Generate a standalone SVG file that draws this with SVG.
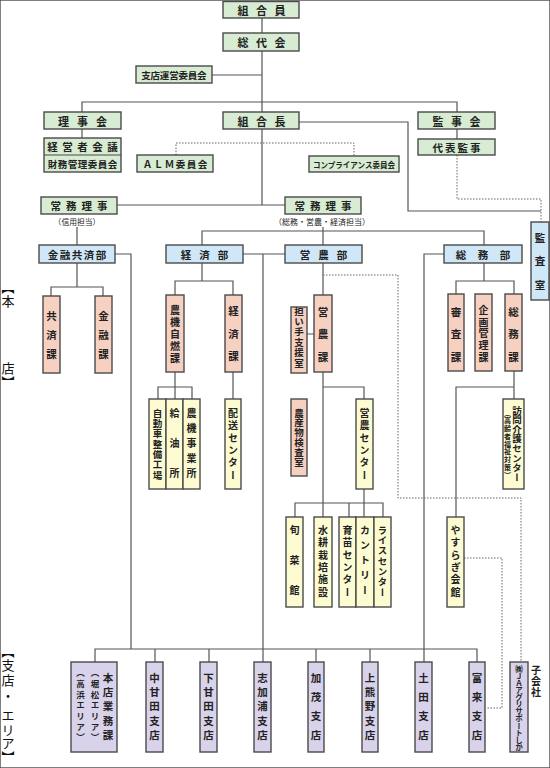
<svg xmlns="http://www.w3.org/2000/svg" width="550" height="768" viewBox="0 0 550 768">
<style>
rect{stroke:#4a4a4a;stroke-width:1.4}
.g{fill:#d7ecd3}.bl{fill:#cfe7f7}.s{fill:#f6d0c0}.y{fill:#fcfbd1}.l{fill:#d8d3ea}
.t{font-family:"Noto Sans CJK JP","Noto Sans CJK SC",sans-serif;font-weight:700;fill:#222;text-anchor:middle}
.h{dominant-baseline:central}
.v{writing-mode:vertical-rl}
.lab{font-family:"Noto Sans CJK JP",sans-serif;font-weight:400;fill:#111;text-anchor:middle;dominant-baseline:central;font-size:13px}
.ln{fill:none;stroke:#555;stroke-width:1.2}
.dt{fill:none;stroke:#666;stroke-width:1;stroke-dasharray:1.5 1.5}
</style>
<rect x="0" y="0" width="550" height="768" fill="#fff" stroke="none"/>
<g id="connectors">
<path class="ln" d="M262 18V33M262 51V112M262 129V205M212 75H262M82 112V102H457V112M82 129V138M457 129V139M299 122H408V211H541M117 205H285M77 227V245M323 227V245M202 245V231H484V245M115 254H131V649M243 254H285M263 254V662M444 254H424V662M95 662V649H477V662M155 649V662M209 649V662M316 649V662M370 649V662M77 263V287M51 296V287H103V296M202 263V281M175 295V281H233V295M175 372V399M158 399V387H192V399M233 372V399M323 263V295M307 334H314M323 372V517M323 387H364V399M364 489V517M295 517V503H383V517M349 503V517M484 263V281M456 294V281H514V294M514 371V399M514 387H456V517"/>
<path class="dt" d="M176 155V143H354V156M457 155V199H541V222M323 275H398V498H521V662M464 558H502V708H486"/>
</g>
<g id="labels">
<text class="lab" x="8 8 8 8" y="286 300 367 381">︻本店︼</text>
<text class="lab" x="8 8 8 8 8 8 8 8" y="650 664 679 695 714 729 742.5 756">︻支店・エリア︼</text>
<text class="t h" x="536 536 536" y="669 680 691" font-size="10">子会社</text>
<text class="t" x="77" y="221.5" font-size="7.8" style="dominant-baseline:central;font-weight:400">（信用担当）</text>
<text class="t" x="322" y="221.5" font-size="8" style="dominant-baseline:central;font-weight:400">（総務・営農・経済担当）</text>
</g>
<g id="n-kumiaiin"><rect class="g" x="223" y="1.5" width="76" height="16.5"/><text class="t h" x="243 261.5 280" y="10" font-size="11">組合員</text></g>
<g id="n-soudaikai"><rect class="g" x="223" y="33" width="76" height="18"/><text class="t h" x="243 261.5 280" y="42" font-size="11">総代会</text></g>
<g id="n-shiten-unei"><rect class="g" x="136" y="66" width="76" height="17"/><text class="t h" x="146 155.3 164.6 173.9 183.2 192.5 201.8" y="74.5" font-size="9.5">支店運営委員会</text></g>
<g id="n-rijikai"><rect class="g" x="44" y="112" width="77" height="17"/><text class="t h" x="63.5 82.5 101.5" y="120.5" font-size="11">理事会</text></g>
<g id="n-kumiaicho"><rect class="g" x="223" y="112" width="76" height="17"/><text class="t h" x="243 261.5 280" y="120.5" font-size="11">組合長</text></g>
<g id="n-kanjikai"><rect class="g" x="418" y="112" width="77" height="17"/><text class="t h" x="438 456.5 475" y="120.5" font-size="11">監事会</text></g>
<g id="n-keiei"><rect class="g" x="44" y="138" width="77" height="34"/><line x1="44" y1="155" x2="121" y2="155" stroke="#4a4a4a" stroke-width="1.2"/><text class="t h" x="52.5 67.5 82.5 97.5 112.5" y="146.5" font-size="10.5">経営者会議</text><text class="t h" x="52.5 62.5 72.5 82.5 92.5 102.5 112.5" y="163.5" font-size="9.5">財務管理委員会</text></g>
<g id="n-alm"><rect class="g" x="137" y="155" width="76" height="17"/><text class="t h" x="147.5 158.5 169.5 180.5 191.5 202.5" y="163.5" font-size="9.5">ＡＬＭ委員会</text></g>
<g id="n-compliance"><rect class="g" x="309" y="156" width="90" height="16"/><text class="t h" x="354" y="164" font-size="8.2" textLength="82" lengthAdjust="spacingAndGlyphs">コンプライアンス委員会</text></g>
<g id="n-daihyo"><rect class="g" x="418" y="139" width="77" height="16"/><text class="t h" x="437.7 450.2 462.7 475.2" y="147" font-size="10.5">代表監事</text></g>
<g id="n-jomu-l"><rect class="g" x="41" y="197" width="76" height="17"/><text class="t h" x="55.75 71.25 86.75 102.25" y="205.5" font-size="10.5">常務理事</text></g>
<g id="n-jomu-r"><rect class="g" x="285" y="197" width="76" height="17"/><text class="t h" x="299.75 315.25 330.75 346.25" y="205.5" font-size="10.5">常務理事</text></g>
<g id="n-kinyu-kyosai"><rect class="bl" x="39" y="245" width="76" height="18"/><text class="t h" x="53 65 77 89 101" y="254" font-size="10.5">金融共済部</text></g>
<g id="n-keizai"><rect class="bl" x="166" y="245" width="77" height="18"/><text class="t h" x="186 204.5 223" y="254" font-size="10.5">経済部</text></g>
<g id="n-einou"><rect class="bl" x="285" y="245" width="77" height="18"/><text class="t h" x="305 323.5 342" y="254" font-size="10.5">営農部</text></g>
<g id="n-somu"><rect class="bl" x="444" y="245" width="78" height="18"/><text class="t h" x="461 483 505" y="254" font-size="10.5">総務部</text></g>
<g id="n-kansa"><rect class="bl" x="531" y="222" width="18" height="78"/><text class="t v" x="540" y="238 261.5 285" font-size="10.5">監査室</text></g>
<g id="n-kyosai-ka"><rect class="s" x="43" y="296" width="17" height="77"/><text class="t v" x="51.5" y="316 335 354" font-size="10.5">共済課</text></g>
<g id="n-kinyu-ka"><rect class="s" x="95" y="296" width="17" height="77"/><text class="t v" x="103.5" y="316 335 354" font-size="10.5">金融課</text></g>
<g id="n-noki"><rect class="s" x="166" y="295" width="18" height="77"/><text class="t v" x="175" y="310 322 334 346 358" font-size="10">農機自燃課</text></g>
<g id="n-keizai-ka"><rect class="s" x="225" y="295" width="17" height="77"/><text class="t v" x="233.5" y="311.5 334 356.5" font-size="10.5">経済課</text></g>
<g id="n-ninaite"><rect class="s" x="291" y="307" width="16" height="66"/><text class="t v" x="299" y="311 321.4 331.8 342.2 352.6 363" font-size="9.5">担い手支援室</text></g>
<g id="n-einou-ka"><rect class="s" x="314" y="295" width="18" height="77"/><text class="t v" x="323" y="312 334.5 357" font-size="10.5">営農課</text></g>
<g id="n-shinsa"><rect class="s" x="448" y="294" width="16" height="77"/><text class="t v" x="456" y="312 334.5 357" font-size="10.5">審査課</text></g>
<g id="n-kikaku"><rect class="s" x="475" y="294" width="17" height="77"/><text class="t v" x="483.5" y="310 321.75 333.5 345.25 357" font-size="10">企画管理課</text></g>
<g id="n-somu-ka"><rect class="s" x="505" y="294" width="17" height="77"/><text class="t v" x="513.5" y="312 334.5 357" font-size="10.5">総務課</text></g>
<g id="n-kensa"><rect class="s" x="291" y="399" width="16" height="77"/><text class="t v" x="299" y="413 422.8 432.6 442.4 452.2 462" font-size="9.5">農産物検査室</text></g>
<g id="n-jidosha"><rect class="y" x="149" y="399" width="17" height="90"/><text class="t v" x="157.5" y="413 423.3 433.7 444 454.3 464.7 475" font-size="9.5">自動車整備工場</text></g>
<g id="n-kyuyu"><rect class="y" x="166" y="399" width="17" height="90"/><text class="t v" x="174.5" y="413 443 473" font-size="10">給油所</text></g>
<g id="n-noki-jigyo"><rect class="y" x="183" y="399" width="17" height="90"/><text class="t v" x="191.5" y="413 428 443 458 473" font-size="10">農機事業所</text></g>
<g id="n-haiso"><rect class="y" x="225" y="399" width="16" height="90"/><text class="t v" x="233" y="413 425.4 437.8 450.2 462.6 475" font-size="10">配送センター</text></g>
<g id="n-einou-center"><rect class="y" x="356" y="399" width="17" height="90"/><text class="t v" x="364.5" y="413 425.4 437.8 450.2 462.6 475" font-size="10">営農センター</text></g>
<g id="n-homon"><rect class="y" x="503" y="399" width="21" height="90"/><text class="t v" x="517" y="410 419.6 429.1 438.7 448.3 457.9 467.4 477" font-size="9.5">訪問介護センター</text><text class="t v" x="507.5" y="413 420.75 428.5 436.25 444 451.75 459.5 467.25 475" font-size="7">（高齢者福祉対策）</text></g>
<g id="n-shunsai"><rect class="y" x="286" y="517" width="17" height="90"/><text class="t v" x="294.5" y="530 560 590" font-size="10">旬菜館</text></g>
<g id="n-suiko"><rect class="y" x="314" y="517" width="18" height="90"/><text class="t v" x="323" y="530 542.4 554.8 567.2 579.6 592" font-size="10">水耕栽培施設</text></g>
<g id="n-ikubyo"><rect class="y" x="339" y="517" width="17" height="90"/><text class="t v" x="347.5" y="530 542.4 554.8 567.2 579.6 592" font-size="10">育苗センター</text></g>
<g id="n-country"><rect class="y" x="356" y="517" width="18" height="90"/><text class="t v" x="365" y="530 545 560 575 590" font-size="10">カントリー</text></g>
<g id="n-rice"><rect class="y" x="374" y="517" width="17" height="90"/><text class="t v" x="382.5" y="530 540.3 550.7 561 571.3 581.7 592" font-size="9.5">ライスセンター</text></g>
<g id="n-yasuragi"><rect class="y" x="447" y="517" width="17" height="90"/><text class="t v" x="455.5" y="530 542.4 554.8 567.2 579.6 592" font-size="10">やすらぎ会館</text></g>
<g id="n-honten"><rect class="l" x="71" y="662" width="46" height="90"/><text class="t v" x="108" y="678 692.25 706.5 720.75 735" font-size="10.5">本店業務課</text><text class="t v" x="95" y="673 683.67 694.33 705 715.67 726.33 737" font-size="8.5">（堀松エリア）</text><text class="t v" x="80.5" y="673 683.67 694.33 705 715.67 726.33 737" font-size="8.5">（高浜エリア）</text></g>
<g id="n-nakaamada"><rect class="l" x="146" y="662" width="17" height="90"/><text class="t v" x="154.5" y="678 692.25 706.5 720.75 735" font-size="10.5">中甘田支店</text></g>
<g id="n-shimoamada"><rect class="l" x="200" y="662" width="17" height="90"/><text class="t v" x="208.5" y="678 692.25 706.5 720.75 735" font-size="10.5">下甘田支店</text></g>
<g id="n-shikaura"><rect class="l" x="254" y="662" width="17" height="90"/><text class="t v" x="262.5" y="678 692.25 706.5 720.75 735" font-size="10.5">志加浦支店</text></g>
<g id="n-kamo"><rect class="l" x="308" y="662" width="16" height="90"/><text class="t v" x="316" y="678 697 716 735" font-size="10.5">加茂支店</text></g>
<g id="n-kamikumano"><rect class="l" x="362" y="662" width="16" height="90"/><text class="t v" x="370" y="678 692.25 706.5 720.75 735" font-size="10.5">上熊野支店</text></g>
<g id="n-tsuchida"><rect class="l" x="415" y="662" width="17" height="90"/><text class="t v" x="423.5" y="678 697 716 735" font-size="10.5">土田支店</text></g>
<g id="n-togi"><rect class="l" x="469" y="662" width="16" height="90"/><text class="t v" x="477" y="678 697 716 735" font-size="10.5">富来支店</text></g>
<g id="n-ja"><rect class="l" x="510" y="662" width="18" height="90"/><text class="t v" x="519" y="669 676.1 683.2 690.3 697.4 704.5 711.5 718.6 725.7 732.8 739.9 747" font-size="7.5">㈱ＪＡアグリサポートしか</text></g>
</svg>
